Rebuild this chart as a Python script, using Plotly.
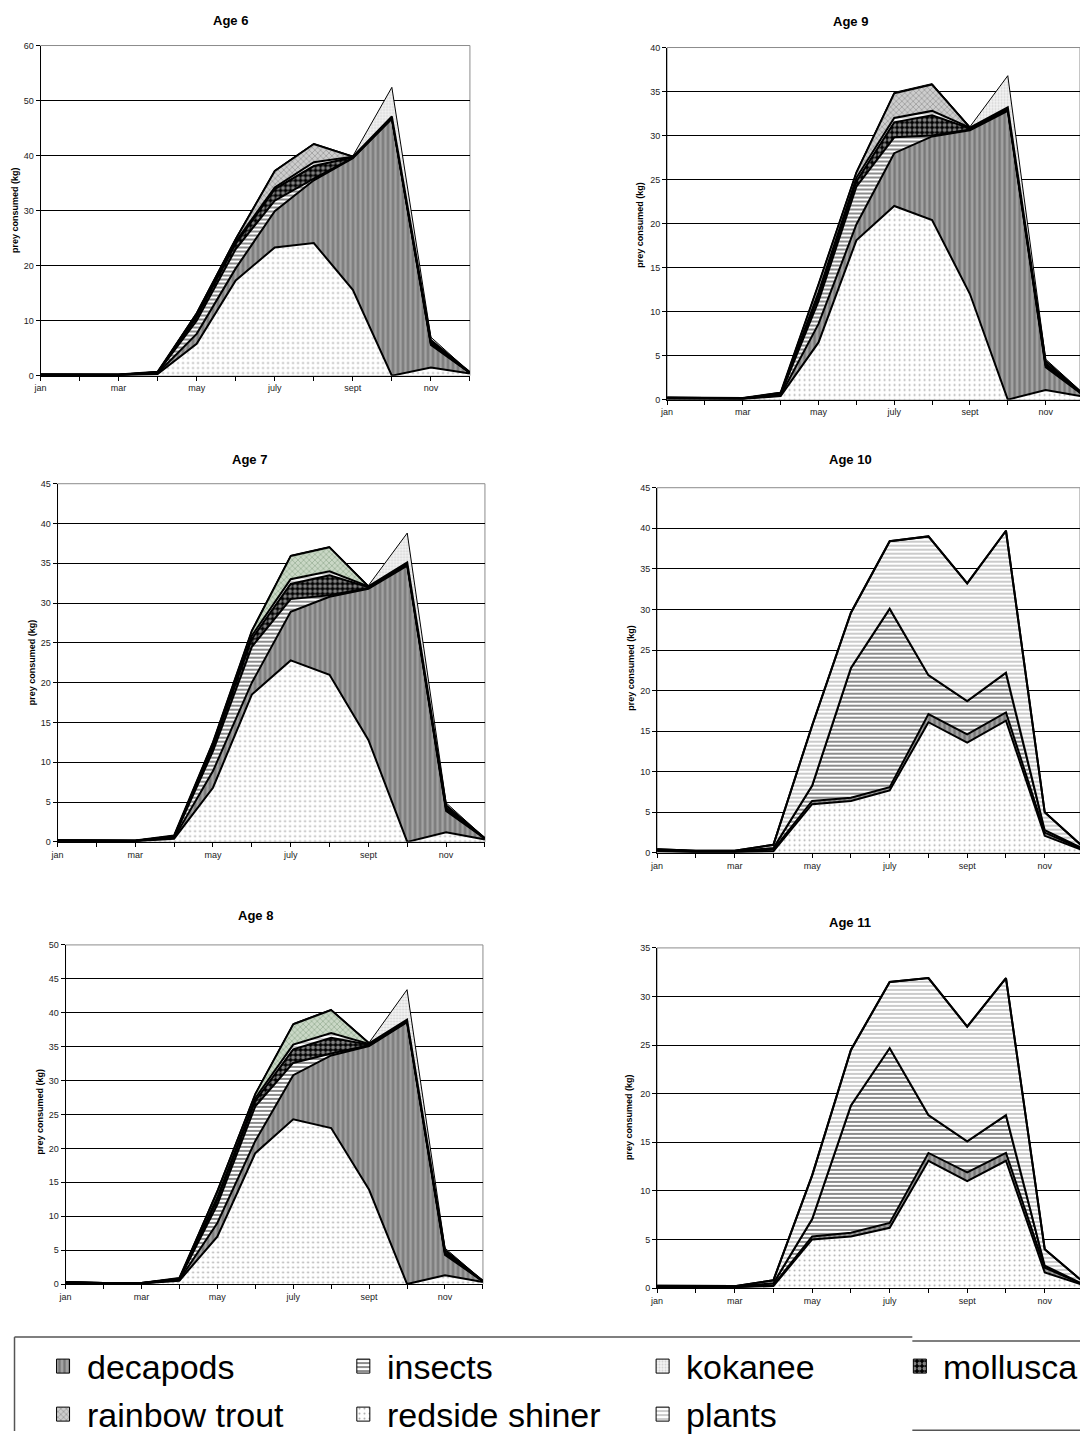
import plotly.graph_objects as go

# ---------------------------------------------------------------- data
months = ["jan", "feb", "mar", "apr", "may", "jun", "jul", "aug", "sep", "oct", "nov", "dec"]
month_labels = ["jan", "", "mar", "", "may", "", "july", "", "sept", "", "nov", ""]

# prey consumed (kg) per month, one list per prey group and age
redside_6 = [0.1, 0.1, 0.1, 0.3, 5.8, 17.3, 23.3, 24.1, 15.6, 0.0, 1.5, 0.4]
decapods_6 = [0.05, 0.05, 0.05, 0.15, 1.8, 2.2, 6.6, 11.4, 23.9, 46.7, 4.1, 0.1]
insects_6 = [0.03, 0.02, 0.02, 0.1, 2.4, 3.5, 1.9, 0.3, 0.1, 0.1, 0.2, 0.05]
mollusca_6 = [0.02, 0.01, 0.01, 0.05, 0.6, 1.0, 2.1, 2.3, 0.1, 0.1, 0.1, 0.01]
plants_6 = [0.0, 0.0, 0.0, 0.02, 0.4, 0.4, 0.3, 0.7, 0.1, 0.1, 0.2, 0.01]
trout_6 = [0.02, 0.02, 0.02, 0.08, 0.3, 0.4, 3.0, 3.3, 0.0, 0.1, 0.4, 0.03]
kokanee_6 = [0.03, 0.0, 0.0, 0.0, 0.2, 0.2, 0.1, 0.1, 0.1, 5.3, 0.5, 0.0]

redside_7 = [0.1, 0.1, 0.1, 0.4, 6.8, 18.5, 22.8, 21.0, 12.8, 0.0, 1.2, 0.3]
decapods_7 = [0.05, 0.02, 0.02, 0.1, 2.1, 1.5, 6.1, 9.8, 19.0, 34.7, 2.7, 0.1]
insects_7 = [0.02, 0.01, 0.01, 0.1, 2.5, 4.5, 1.6, 0.2, 0.1, 0.1, 0.2, 0.02]
mollusca_7 = [0.01, 0.01, 0.01, 0.05, 0.5, 1.0, 1.9, 2.5, 0.1, 0.1, 0.1, 0.01]
plants_7 = [0.01, 0.01, 0.01, 0.05, 0.3, 0.4, 0.6, 0.5, 0.1, 0.1, 0.1, 0.01]
trout_7 = [0.02, 0.02, 0.02, 0.1, 0.3, 0.6, 2.9, 3.0, 0.0, 0.1, 0.3, 0.02]
kokanee_7 = [0.01, 0.0, 0.0, 0.0, 0.1, 0.1, 0.1, 0.1, 0.1, 3.7, 0.3, 0.02]

redside_8 = [0.1, 0.1, 0.1, 0.5, 7.0, 19.3, 24.3, 23.0, 13.9, 0.0, 1.3, 0.3]
decapods_8 = [0.1, 0.02, 0.02, 0.1, 2.0, 1.8, 6.5, 10.7, 21.2, 38.6, 3.0, 0.1]
insects_8 = [0.05, 0.01, 0.01, 0.1, 2.7, 5.1, 1.8, 0.3, 0.1, 0.1, 0.2, 0.02]
mollusca_8 = [0.02, 0.01, 0.01, 0.05, 0.7, 0.8, 2.0, 2.3, 0.1, 0.1, 0.1, 0.01]
plants_8 = [0.01, 0.01, 0.01, 0.05, 0.4, 0.4, 0.7, 0.7, 0.1, 0.1, 0.1, 0.01]
trout_8 = [0.02, 0.02, 0.02, 0.1, 0.8, 0.6, 3.0, 3.4, 0.1, 0.1, 0.3, 0.02]
kokanee_8 = [0.02, 0.0, 0.0, 0.0, 0.3, 0.1, 0.1, 0.1, 0.1, 4.4, 0.3, 0.04]

redside_9 = [0.1, 0.1, 0.1, 0.4, 6.5, 18.1, 22.0, 20.4, 12.0, 0.0, 1.1, 0.35]
decapods_9 = [0.05, 0.02, 0.02, 0.1, 2.1, 1.8, 6.0, 9.5, 18.6, 32.8, 2.6, 0.15]
insects_9 = [0.05, 0.02, 0.02, 0.1, 2.6, 4.3, 1.8, 0.1, 0.1, 0.1, 0.2, 0.05]
mollusca_9 = [0.02, 0.01, 0.01, 0.05, 0.6, 0.6, 1.7, 2.3, 0.1, 0.1, 0.1, 0.02]
plants_9 = [0.01, 0.01, 0.01, 0.05, 0.4, 0.4, 0.5, 0.5, 0.1, 0.1, 0.1, 0.01]
trout_9 = [0.02, 0.02, 0.02, 0.1, 0.9, 0.6, 2.8, 3.0, 0.0, 0.1, 0.3, 0.02]
kokanee_9 = [0.01, 0.0, 0.0, 0.05, 0.1, 0.1, 0.1, 0.1, 0.1, 3.6, 0.2, 0.1]

redside_10 = [0.2, 0.1, 0.1, 0.2, 6.0, 6.4, 7.7, 16.1, 13.6, 16.3, 2.1, 0.3]
decapods_10 = [0.1, 0.05, 0.05, 0.2, 0.4, 0.4, 0.4, 1.0, 1.0, 1.0, 0.4, 0.1]
insects_10 = [0.05, 0.05, 0.05, 0.2, 1.9, 16.0, 22.0, 4.8, 4.1, 4.9, 0.3, 0.1]
mollusca_10 = [0.0] * 12
plants_10 = [0.1, 0.05, 0.05, 0.4, 7.4, 6.8, 8.3, 17.1, 14.5, 17.5, 2.2, 0.2]
trout_10 = [0.0] * 12
kokanee_10 = [0.0] * 12

redside_11 = [0.1, 0.1, 0.1, 0.2, 5.0, 5.3, 6.2, 13.1, 11.0, 13.1, 1.6, 0.3]
decapods_11 = [0.05, 0.02, 0.02, 0.1, 0.3, 0.4, 0.5, 0.8, 0.9, 0.8, 0.5, 0.05]
insects_11 = [0.05, 0.03, 0.03, 0.2, 1.8, 13.1, 18.0, 3.9, 3.2, 3.9, 0.2, 0.05]
mollusca_11 = [0.0] * 12
plants_11 = [0.05, 0.05, 0.05, 0.3, 4.5, 5.7, 6.8, 14.1, 11.8, 14.1, 1.7, 0.2]
trout_11 = [0.0] * 12
kokanee_11 = [0.0] * 12

diet = {
    6: [redside_6, decapods_6, insects_6, mollusca_6, plants_6, trout_6, kokanee_6],
    7: [redside_7, decapods_7, insects_7, mollusca_7, plants_7, trout_7, kokanee_7],
    8: [redside_8, decapods_8, insects_8, mollusca_8, plants_8, trout_8, kokanee_8],
    9: [redside_9, decapods_9, insects_9, mollusca_9, plants_9, trout_9, kokanee_9],
    10: [redside_10, decapods_10, insects_10, mollusca_10, plants_10, trout_10, kokanee_10],
    11: [redside_11, decapods_11, insects_11, mollusca_11, plants_11, trout_11, kokanee_11],
}
# stacking order, bottom to top
prey_names = ["redside shiner", "decapods", "insects", "mollusca", "plants", "rainbow trout", "kokanee"]
legend_names = ["decapods", "insects", "kokanee", "mollusca", "rainbow trout", "redside shiner", "plants"]
y_max = {6: 60, 7: 45, 8: 50, 9: 40, 10: 45, 11: 35}
y_step = {6: 10, 7: 5, 8: 5, 9: 5, 10: 5, 11: 5}

# ---------------------------------------------------------------- styles
W, H = 1080, 1436
FONT = "Liberation Sans, Arial, sans-serif"
# the page view shows the figure slightly offset and scaled; positions below are in view pixels
VIEW_SCALE, VIEW_DX, VIEW_DY = 0.9926, 7.5, 4.5


def fill_style(name, age=None):
    if name == "redside shiner":
        return dict(shape=".", bgcolor="#ffffff", fgcolor="#5e5e5e", size=5, solidity=0.13)
    if name == "decapods":
        return dict(shape="|", bgcolor="#a2a2a2", fgcolor="#4c4c4c", size=5, solidity=0.45)
    if name == "insects":
        return dict(shape="-", bgcolor="#ffffff", fgcolor="#000000", size=4, solidity=0.45)
    if name == "mollusca":
        return dict(shape=".", bgcolor="#000000", fgcolor="#ffffff", size=5, solidity=0.5)
    if name == "plants":
        return dict(shape="-", bgcolor="#ffffff", fgcolor="#6a6a6a", size=4, solidity=0.35)
    if name == "rainbow trout":
        if age in (7, 8):
            return dict(shape="x", bgcolor="#cad8c6", fgcolor="#789274", size=4, solidity=0.4)
        return dict(shape="x", bgcolor="#cdcdcd", fgcolor="#747474", size=4, solidity=0.4)
    return dict(shape=".", bgcolor="#f4f4f4", fgcolor="#b0b0b0", size=3, solidity=0.35)


# panel placement in view pixels: plot-area left, right, top, bottom; title and axis-title centres
panels = {
    6: dict(left=41, right=470, top=45, bottom=375, title=(231, 20), ytitle=(15, 210), dec=470),
    7: dict(left=58, right=485, top=483, bottom=841, title=(250, 459), ytitle=(32, 662), dec=485),
    8: dict(left=66, right=483, top=944, bottom=1283, title=(256, 915), ytitle=(40, 1111), dec=483),
    9: dict(left=667, right=1080, top=47, bottom=399, title=(850, 21), ytitle=(640, 224), dec=1083),
    10: dict(left=657, right=1080, top=487, bottom=852, title=(850, 459), ytitle=(631, 667), dec=1083),
    11: dict(left=657, right=1080, top=947, bottom=1287, title=(850, 922), ytitle=(629, 1116), dec=1083),
}
LEGEND_TOP = 1320


def fx(x):
    """view pixel -> figure pixel (horizontal)"""
    return (x - VIEW_DX) / VIEW_SCALE


def fy(y):
    """view pixel -> figure pixel (vertical)"""
    return (y - VIEW_DY) / VIEW_SCALE


def px(x):
    return min(1.0, max(0.0, fx(x) / W))


def py(y):
    return min(1.0, max(0.0, 1 - fy(y) / H))


fig = go.Figure()
layout = dict(
    width=W, height=H, autosize=False,
    margin=dict(l=0, r=0, t=0, b=0),
    paper_bgcolor="white", plot_bgcolor="rgba(0,0,0,0)",
    showlegend=False,
    font=dict(family=FONT, color="#111111"),
)
annotations = []
shapes = []

for n, age in enumerate([6, 7, 8, 9, 10, 11], start=1):
    p = panels[age]
    suffix = "" if n == 1 else str(n)
    xa, ya = "x" + suffix, "y" + suffix
    xkey, ykey = "xaxis" + suffix, "yaxis" + suffix
    for name, vals in zip(prey_names, diet[age]):
        fig.add_trace(go.Scatter(
            x=months, y=vals, xaxis=xa, yaxis=ya,
            mode="lines", stackgroup=f"age{age}",
            line=dict(color="#000000", width=1 if name == "kokanee" else 2),
            fillcolor=fill_style(name, age)["bgcolor"],
            fillpattern=fill_style(name, age),
            name=name, hoverinfo="skip", showlegend=False,
        ))
    # categories sit on the ticks; the right-hand panels run past the page edge
    left_f, dec_f = fx(p["left"]), fx(p["dec"])
    right_f = min(W, fx(p["right"]))
    x_end = 11 * (right_f - left_f) / (dec_f - left_f)
    layout[xkey] = dict(
        domain=[left_f / W, right_f / W], anchor=ya,
        type="category", categoryorder="array", categoryarray=months,
        range=[0, x_end], tickmode="array", tickvals=months, ticktext=month_labels,
        ticks="outside", ticklen=4, tickwidth=1, tickcolor="#000000",
        showline=True, linecolor="#000000", linewidth=1,
        showgrid=False, zeroline=False,
        tickfont=dict(size=9, family=FONT, color="#222222"),
    )
    layout[ykey] = dict(
        domain=[py(p["bottom"]), py(p["top"])], anchor=xa,
        range=[0, y_max[age]], dtick=y_step[age], tick0=0,
        ticks="outside", ticklen=4, tickwidth=1, tickcolor="#000000",
        showline=True, linecolor="#000000", linewidth=1,
        showgrid=True, gridcolor="#000000", gridwidth=1, zeroline=False,
        tickfont=dict(size=9, family=FONT, color="#222222"),
    )
    shapes.append(dict(type="rect", xref=f"{xa} domain", yref=f"{ya} domain",
                       x0=0, x1=1, y0=0, y1=1, line=dict(color="#8c8c8c", width=1),
                       layer="below"))
    annotations.append(dict(text=f"<b>Age {age}</b>", x=px(p["title"][0]), y=py(p["title"][1]),
                            xref="paper", yref="paper", showarrow=False,
                            xanchor="center", yanchor="middle",
                            font=dict(size=13, family=FONT, color="#000000")))
    annotations.append(dict(text="<b>prey consumed (kg)</b>", x=px(p["ytitle"][0]), y=py(p["ytitle"][1]),
                            xref="paper", yref="paper", showarrow=False, textangle=-90,
                            xanchor="center", yanchor="middle",
                            font=dict(size=9, family=FONT, color="#000000")))

# ---------------------------------------------------------------- legend block
# a hidden view-pixel axis pair over the legend strip holds the pattern swatches
leg_axis = len(panels) + 1
layout[f"xaxis{leg_axis}"] = dict(domain=[0, 1], range=[VIEW_DX, VIEW_DX + W * VIEW_SCALE], visible=False,
                                  anchor=f"y{leg_axis}", fixedrange=True)
layout[f"yaxis{leg_axis}"] = dict(domain=[0, py(LEGEND_TOP)], range=[VIEW_DY + H * VIEW_SCALE, LEGEND_TOP],
                                  visible=False, anchor=f"x{leg_axis}", fixedrange=True)

col_x = [57, 357, 656, 913]
row_y = [1365, 1413]
for i, name in enumerate(legend_names):
    cx = col_x[i % 4]
    cy = row_y[i // 4]
    sw, sh = 13, 14
    fig.add_trace(go.Scatter(
        x=[cx, cx + sw, cx + sw, cx, cx], y=[cy - sh / 2, cy - sh / 2, cy + sh / 2, cy + sh / 2, cy - sh / 2],
        xaxis=f"x{leg_axis}", yaxis=f"y{leg_axis}", mode="lines", fill="toself",
        line=dict(color="#000000", width=1),
        fillcolor=fill_style(name)["bgcolor"], fillpattern=fill_style(name),
        hoverinfo="skip", showlegend=False,
    ))
    annotations.append(dict(text=name, x=px(cx + 28), y=py(cy + 1), xref="paper", yref="paper",
                            showarrow=False, xanchor="left", yanchor="middle",
                            font=dict(size=34, family=FONT, color="#000000")))

box_line = dict(color="#555555", width=1.5)
shapes += [
    dict(type="line", xref="paper", yref="paper", x0=px(15), x1=px(15), y0=py(1336), y1=0, line=box_line),
    dict(type="line", xref="paper", yref="paper", x0=px(15), x1=px(912), y0=py(1336), y1=py(1336), line=box_line),
    dict(type="line", xref="paper", yref="paper", x0=px(912), x1=1, y0=py(1340), y1=py(1340), line=box_line),
    dict(type="line", xref="paper", yref="paper", x0=px(912), x1=1, y0=py(1429), y1=py(1429), line=box_line),
]

layout["annotations"] = annotations
layout["shapes"] = shapes
fig.update_layout(**layout)
fig.write_html("out.html")
